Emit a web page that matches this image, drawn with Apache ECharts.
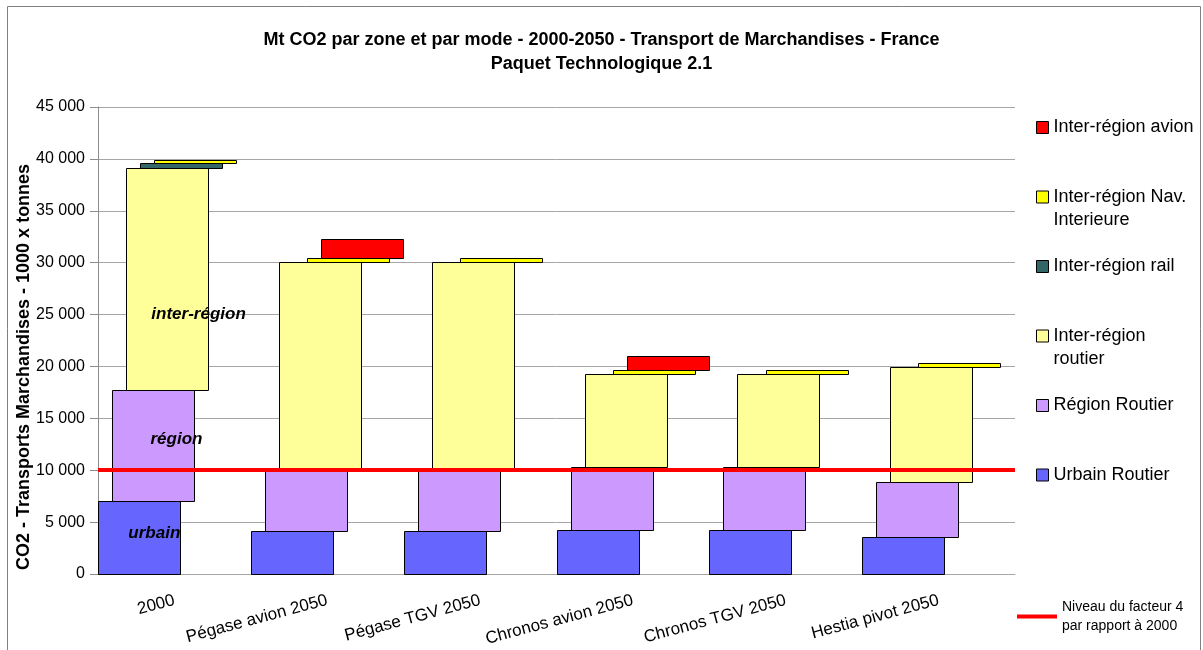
<!DOCTYPE html>
<html>
<head>
<meta charset="utf-8">
<script src="https://cdn.jsdelivr.net/npm/echarts@6/dist/echarts.min.js"></script>
<style>
html,body{margin:0;padding:0;background:#fff;}
#chart{width:1203px;height:650px;}
</style>
</head>
<body>
<div id="chart"></div>
<script>
// ---- Data ----
var categories = ['2000', 'Pégase avion 2050', 'Pégase TGV 2050', 'Chronos avion 2050', 'Chronos TGV 2050', 'Hestia pivot 2050'];
var urbainRoutier       = [7000, 4100, 4100, 4200, 4200, 3600];
var regionRoutier       = [10700, 5950, 5950, 6150, 6150, 5300];
var interRegionRoutier  = [21450, 20050, 20050, 8950, 8950, 11050];
var interRegionRail     = [480, 0, 0, 0, 0, 0];
var interRegionNav      = [290, 380, 380, 380, 380, 380];
var interRegionAvion    = [0, 1770, 0, 1280, 0, 0];
var facteur4Level = 10000;
var zoneLabels = ['urbain', 'région', 'inter-région'];
var zoneLabelValues = [3900, 13000, 25000];
var yTicks = [0, 5000, 10000, 15000, 20000, 25000, 30000, 35000, 40000, 45000];

var seriesNames = ['Urbain Routier', 'Région Routier', 'Inter-région\nroutier', 'Inter-région rail', 'Inter-région Nav.\nInterieure', 'Inter-région avion'];
var seriesValues = [urbainRoutier, regionRoutier, interRegionRoutier, interRegionRail, interRegionNav, interRegionAvion];
var lineName = 'Niveau du facteur 4\npar rapport à 2000';

// ---- Styles ----
var FONT = '"Liberation Sans", Arial, sans-serif';
var colors = ['#6666FF', '#CC99FF', '#FFFF99', '#336666', '#FFFF00', '#FF0000'];
var GRID_COLOR = '#a6a6a6';
var AXIS_COLOR = '#8c8c8c';

// cumulative stacking
var bases = [];
var running = categories.map(function () { return 0; });
seriesValues.forEach(function (vals) {
  var b = running.slice();
  bases.push(b);
  running = running.map(function (r, i) { return r + vals[i]; });
});

function makeRender(k) {
  return function (params, api) {
    var cat = api.value(0), lo = api.value(1), hi = api.value(2);
    if (!(hi - lo > 0)) return null;
    var band = api.size([1, 0])[0];
    var p0 = api.coord([cat, lo]);
    var p1 = api.coord([cat, hi]);
    var start = p0[0] - band / 2;
    var step = band * 14 / 152;
    var w = band * 82 / 152;
    var x = Math.round(start + k * step) + 0.5;
    var yTop = Math.round(p1[1]) + 0.5;
    var yBot = Math.round(p0[1]) + 0.5;
    return {
      type: 'rect',
      shape: { x: x, y: yTop, width: Math.round(w), height: Math.max(yBot - yTop, 1) },
      style: { fill: colors[k], stroke: '#000', lineWidth: 1 }
    };
  };
}

var series = seriesValues.map(function (vals, k) {
  return {
    name: seriesNames[k],
    type: 'custom',
    renderItem: makeRender(k),
    itemStyle: { color: colors[k], borderColor: '#000', borderWidth: 1 },
    encode: { x: 0, y: [1, 2] },
    data: categories.map(function (c, i) { return [i, bases[k][i], bases[k][i] + vals[i]]; }),
    z: 2
  };
});

// zone labels inside the 2000 column
series.push({
  name: 'zones',
  type: 'custom',
  silent: true,
  renderItem: function (params, api) {
    var j = params.dataIndex;
    var band = api.size([1, 0])[0];
    var p = api.coord([api.value(0), api.value(1)]);
    var start = p[0] - band / 2;
    return {
      type: 'text',
      x: start + band * (56 + 22 * j) / 152,
      y: p[1],
      style: {
        text: zoneLabels[j],
        font: 'italic bold 17px ' + FONT,
        fill: '#000',
        align: 'center',
        verticalAlign: 'middle'
      }
    };
  },
  encode: { x: 0, y: 1 },
  data: zoneLabelValues.map(function (v) { return [0, v]; }),
  z: 4
});

// factor-4 threshold line
series.push({
  name: lineName,
  type: 'line',
  data: [],
  itemStyle: { color: '#FF0000' },
  lineStyle: { color: '#FF0000', width: 4 },
  showSymbol: false,
  z: 6,
  markLine: {
    silent: true,
    symbol: ['none', 'none'],
    label: { show: false },
    lineStyle: { color: '#FF0000', width: 4, type: 'solid' },
    data: [{ yAxis: facteur4Level }],
    z: 6
  }
});

function mkLegend(name, iconCenter) {
  var twoLine = name.indexOf('\n') >= 0;
  return {
    data: [name],
    orient: 'vertical',
    left: 1036,
    top: iconCenter - (twoLine ? 34.5 : 11.5),
    padding: 0,
    itemGap: 0,
    itemWidth: 12,
    itemHeight: 12,
    icon: 'rect',
    itemStyle: { borderColor: '#000', borderWidth: 1 },
    formatter: function (n) { return twoLine ? ' \n' + n : n; },
    textStyle: { fontFamily: FONT, fontSize: 18, color: '#000', lineHeight: 23 }
  };
}

var legends = [
  mkLegend(seriesNames[5], 127.5),
  mkLegend(seriesNames[4], 197),
  mkLegend(seriesNames[3], 266.5),
  mkLegend(seriesNames[2], 336),
  mkLegend(seriesNames[1], 405.5),
  mkLegend(seriesNames[0], 475),
  {
    data: [lineName],
    orient: 'vertical',
    left: 1017,
    top: 597.4,
    padding: 0,
    itemWidth: 40,
    itemHeight: 4,
    icon: 'rect',
    itemStyle: { borderWidth: 0 },
    textStyle: { fontFamily: FONT, fontSize: 14, color: '#000', lineHeight: 19 }
  }
];

var chart = echarts.init(document.getElementById('chart'), null, { renderer: 'canvas' });
chart.setOption({
  backgroundColor: '#fff',
  animation: false,
  title: {
    text: 'Mt CO2 par zone et par mode - 2000-2050 - Transport de Marchandises - France\nPaquet Technologique 2.1',
    left: 'center',
    top: 28,
    padding: 0,
    textStyle: { fontFamily: FONT, fontSize: 18, fontWeight: 'bold', color: '#000', lineHeight: 24 }
  },
  legend: legends,
  grid: { left: 98, right: 188, top: 107, bottom: 76, containLabel: false },
  xAxis: {
    type: 'category',
    data: categories,
    boundaryGap: true,
    axisLine: { show: true, lineStyle: { color: GRID_COLOR, width: 1 } },
    axisTick: { show: false },
    axisLabel: { rotate: 15, fontFamily: FONT, fontSize: 17, color: '#000', margin: 26, interval: 0 },
    splitLine: { show: false }
  },
  yAxis: {
    type: 'value',
    min: yTicks[0],
    max: yTicks[yTicks.length - 1],
    interval: yTicks[1] - yTicks[0],
    axisLine: { show: true, lineStyle: { color: AXIS_COLOR, width: 1 } },
    axisTick: { show: true, inside: false, length: 8, lineStyle: { color: AXIS_COLOR } },
    axisLabel: {
      fontFamily: FONT, fontSize: 16, color: '#000', margin: 13,
      formatter: function (v) {
        return String(v).replace(/\B(?=(\d{3})+(?!\d))/g, ' ');
      }
    },
    splitLine: { show: true, lineStyle: { color: GRID_COLOR, width: 1 } }
  },
  graphic: [
    {
      type: 'rect',
      shape: { x: 7.5, y: 6.5, width: 1193, height: 700 },
      style: { fill: 'none', stroke: '#808080', lineWidth: 1 },
      silent: true,
      z: -1
    },
    {
      type: 'text',
      x: 24,
      y: 570,
      rotation: Math.PI / 2,
      style: {
        text: 'CO2 - Transports Marchandises - 1000 x tonnes',
        font: 'bold 18px ' + FONT,
        fill: '#000',
        align: 'left',
        verticalAlign: 'middle'
      },
      silent: true
    }
  ],
  series: series
});
</script>
</body>
</html>
